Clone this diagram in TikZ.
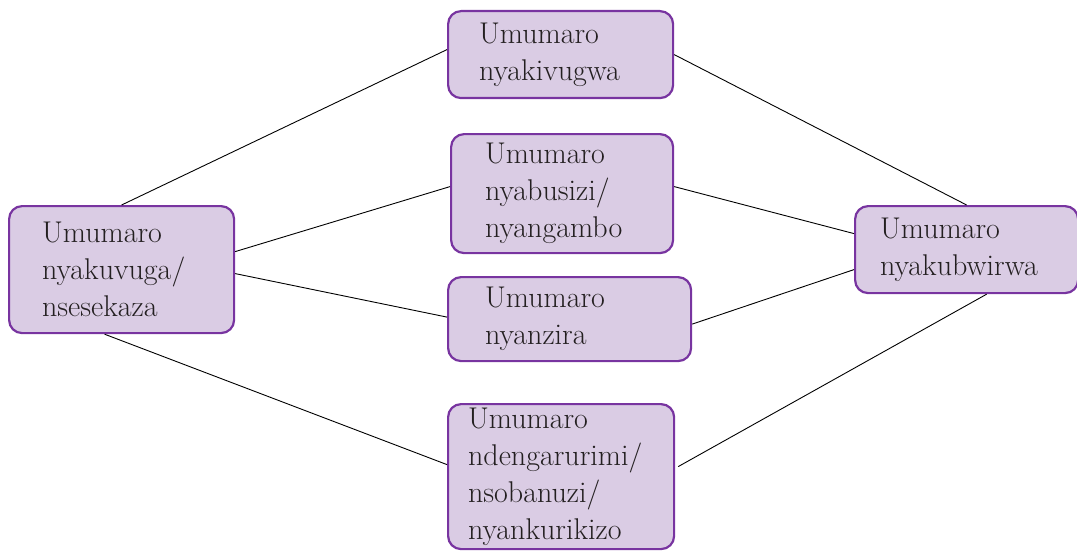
\documentclass[tikz,border=0pt]{standalone}
\usepackage{tikz}

\definecolor{boxfill}{RGB}{218,204,228}
\definecolor{boxline}{RGB}{120,52,160}
\definecolor{inktext}{RGB}{35,31,32}

\tikzset{
  box/.style={rectangle,rounded corners=13pt,draw=boxline,fill=boxfill,line width=2.2pt,
    anchor=north west,align=left,text=inktext,
    font=\fontsize{30}{37}\selectfont},
  link/.style={draw=black,line width=0.9pt}
}

\begin{document}
\begin{tikzpicture}[x=1pt,y=-1pt]
\useasboundingbox (0,0) rectangle (1077,551);

\node[box,inner xsep=33pt,text width=159pt,minimum height=127pt] (L) at (8,205) {Umumaro\\nyakuvuga/\\nsesekaza};
\node[box,inner xsep=31pt,text width=163pt,minimum height=87pt] (T) at (447,10) {Umumaro\\nyakivugwa};
\node[box,inner xsep=34pt,text width=154pt,minimum height=119pt] (B) at (450,133) {Umumaro\\nyabusizi/\\nyangambo};
\node[box,inner xsep=37pt,text width=169pt,minimum height=84pt] (Z) at (447,276) {Umumaro\\nyanzira};
\node[box,inner xsep=20pt,text width=186pt,minimum height=145pt] (N) at (447,403) {Umumaro\\ndengarurimi/\\nsobanuzi/\\nyankurikizo};
\node[box,inner xsep=25pt,text width=173pt,minimum height=87pt] (R) at (854,205) {Umumaro\\nyakubwirwa};

% left side
\draw[link] (L.north)--([yshift=5pt]T.west);
\draw[link] ([yshift=18pt]L.east)--([yshift=7pt]B.west);
\draw[link] ([yshift=-4pt]L.east)--([yshift=2pt]Z.west);
\draw[link] ([xshift=-17pt]L.south)--([yshift=12pt]N.west);
% right side
\draw[link] (T.east)--(R.north);
\draw[link] ([yshift=7pt]B.east)--([yshift=16pt]R.west);
\draw[link] ([yshift=-5pt]Z.east)--([yshift=-20pt]R.west);
\draw[link] ([yshift=10pt,xshift=3pt]N.east)--([xshift=20pt]R.south);
\end{tikzpicture}
\end{document}
